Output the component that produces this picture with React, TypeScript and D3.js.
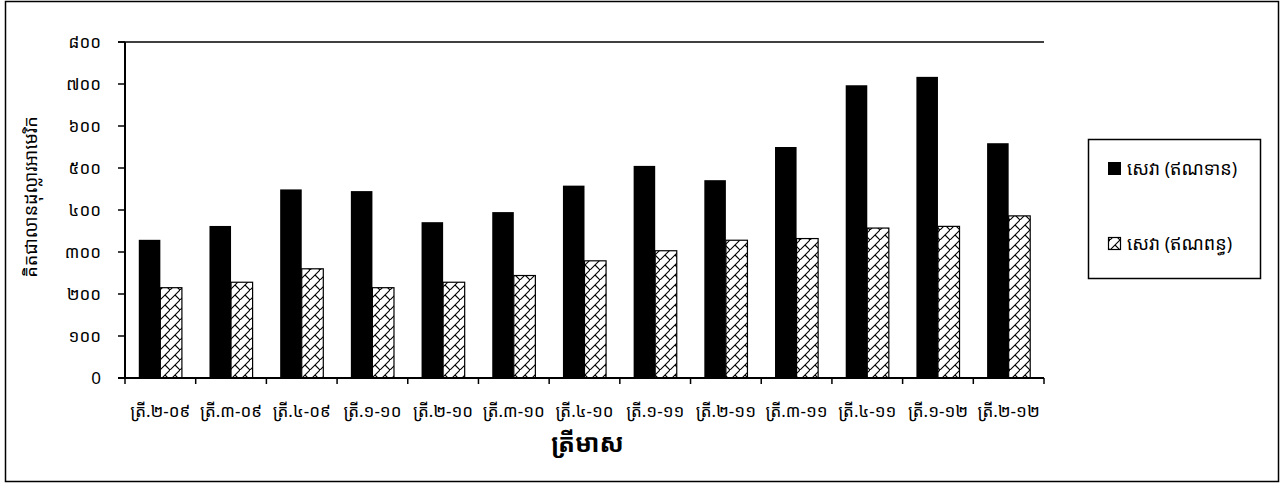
import React from "react";
import * as d3 from "d3";

const categories = [
  "ត្រី.២-០៩", "ត្រី.៣-០៩", "ត្រី.៤-០៩", "ត្រី.១-១០", "ត្រី.២-១០", "ត្រី.៣-១០", "ត្រី.៤-១០",
  "ត្រី.១-១១", "ត្រី.២-១១", "ត្រី.៣-១១", "ត្រី.៤-១១", "ត្រី.១-១២", "ត្រី.២-១២",
];
const seriesNames = ["សេវា (ឥណទាន)", "សេវា (ឥណពន្ធ)"];
const creditValues = [329, 362, 449, 445, 371, 395, 458, 505, 471, 550, 697, 717, 559];
const debitValues = [215, 228, 260, 215, 228, 244, 279, 303, 328, 332, 357, 361, 386];
const yTicks = [0, 100, 200, 300, 400, 500, 600, 700, 800];
const yTickLabels = ["0", "១០០", "២០០", "៣០០", "៤០០", "៥០០", "៦០០", "៧០០", "៨០០"];
const yTitle = "គិតជាលានដុល្លារអាមេរិក";
const xTitle = "ត្រីមាស";

const FONT = "'Khmer OS', 'Khmer OS System', 'Noto Sans Khmer', 'Noto Serif Khmer', 'DejaVu Sans', sans-serif";

export default function App() {
  const W = 1281, H = 485;
  const x0 = 125, x1 = 1044, yTop = 42, yBot = 378;
  const x = d3.scaleBand<string>().domain(categories).range([x0, x1]).paddingInner(0.39).paddingOuter(0.195);
  const sub = d3.scaleBand<number>().domain([0, 1]).range([0, x.bandwidth()]);
  const y = d3.scaleLinear().domain([0, 800]).range([yBot, yTop]);
  const step = x.step();
  const boundaries = d3.range(categories.length + 1).map((i) => x0 + i * step);

  return (
    <svg width={W} height={H} style={{ position: "absolute", left: 0, top: 0, background: "#fff" }} fontFamily={FONT}>
      <defs>
        <pattern id="weave" patternUnits="userSpaceOnUse" width="10" height="10">
          <rect width="10" height="10" fill="#fff" />
          <path d="M-1,11 L11,-1 M5,5 L10,10 M0,0 L-1,-1" stroke="#000" strokeWidth="1.1" fill="none" />
        </pattern>
      </defs>
      <rect x={5.5} y={1.5} width={1273} height={480} fill="#fff" stroke="#000" strokeWidth={1.5} />

      {/* top line */}
      <line x1={118} x2={x1} y1={y(800)} y2={y(800)} stroke="#000" strokeWidth={1.5} />

      {/* bars */}
      {categories.map((c, i) => (
        <g key={c}>
          <rect x={(x(c) as number) + (sub(0) as number)} y={y(creditValues[i])} width={sub.bandwidth()} height={yBot - y(creditValues[i])} fill="#000" />
          <rect x={(x(c) as number) + (sub(1) as number)} y={y(debitValues[i])} width={sub.bandwidth()} height={yBot - y(debitValues[i])} fill="url(#weave)" stroke="#000" strokeWidth={1.2} />
        </g>
      ))}

      {/* y axis */}
      <line x1={x0} x2={x0} y1={yTop} y2={yBot} stroke="#000" strokeWidth={2} />
      {yTicks.map((t, i) => (
        <g key={t}>
          <line x1={118} x2={x0} y1={y(t)} y2={y(t)} stroke="#000" strokeWidth={1.5} />
          <text x={101} y={y(t)} dy="0.35em" textAnchor="end" fontSize={17}>{yTickLabels[i]}</text>
        </g>
      ))}
      <text transform={`translate(31,197) rotate(-90)`} textAnchor="middle" fontSize={18} dy="0.35em">{yTitle}</text>

      {/* x axis */}
      <line x1={x0 - 7} x2={x1} y1={yBot} y2={yBot} stroke="#000" strokeWidth={2} />
      {boundaries.map((b, i) => (
        <line key={i} x1={b} x2={b} y1={yBot} y2={yBot + 6} stroke="#000" strokeWidth={1.5} />
      ))}
      {categories.map((c) => (
        <text key={c} x={(x(c) as number) + x.bandwidth() / 2} y={417} textAnchor="middle" fontSize={17}>{c}</text>
      ))}
      <text x={(x0 + x1) / 2 + 3} y={452} textAnchor="middle" fontSize={25} fontWeight="bold">{xTitle}</text>

      {/* legend */}
      <rect x={1088.5} y={139.5} width={172} height={139} fill="#fff" stroke="#000" strokeWidth={1.5} />
      <rect x={1108} y={162} width={13} height={13} fill="#000" />
      <text x={1127} y={169} dy="0.35em" fontSize={18}>{seriesNames[0]}</text>
      <rect x={1108.5} y={237.5} width={12} height={12} fill="url(#weave)" stroke="#000" strokeWidth={1.2} />
      <text x={1127} y={244} dy="0.35em" fontSize={18}>{seriesNames[1]}</text>
    </svg>
  );
}
